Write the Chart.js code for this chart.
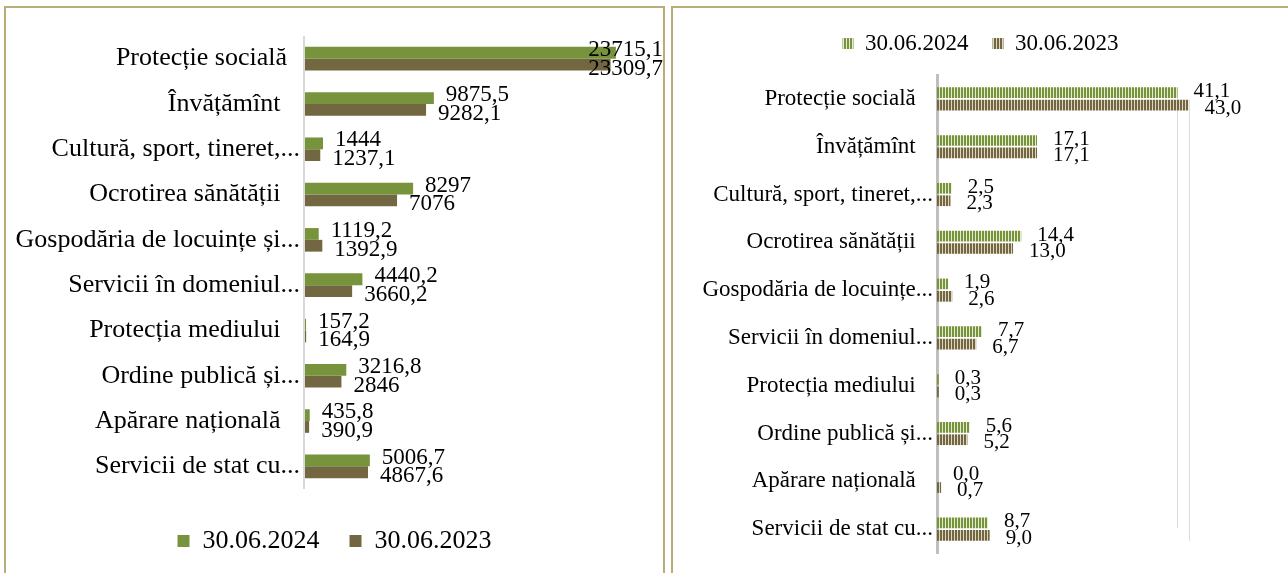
<!DOCTYPE html>
<html>
<head>
<meta charset="utf-8">
<script src="https://cdn.jsdelivr.net/npm/chart.js@4/dist/chart.umd.min.js"></script>
<style>
  body { margin: 0; background: #fff; width: 1288px; height: 573px; overflow: hidden; position: relative; }
  .panel { position: absolute; border: 2px solid #b9ad77; background: #fff; }
  #p1 { left: 4px; top: 6px; width: 657px; height: 600px; }
  #p2 { left: 671px; top: 6px; width: 640px; height: 600px; border-right: none; }
  canvas { display: block; }
</style>
</head>
<body>
<div class="panel" id="p1"><canvas id="c1" width="657" height="565"></canvas></div>
<div class="panel" id="p2"><canvas id="c2" width="615" height="565"></canvas></div>
<script>
// date: cheltuieli pe ramuri, mil. lei si ponderea in total, %
const sp = n => '\u00a0'.repeat(n);
const seriesNames = ['30.06.2024', '30.06.2023'];
const categoriesLeft = [
    'Protecție socială' + sp(2), 'Învățămînt' + sp(3), 'Cultură, sport, tineret,...', 'Ocrotirea sănătății' + sp(3),
    'Gospodăria de locuințe și...', 'Servicii în domeniul...', 'Protecția mediului' + sp(3),
    'Ordine publică și...', 'Apărare națională' + sp(3), 'Servicii de stat cu...'
];
const categoriesRight = [
    'Protecție socială' + sp(3), 'Învățămînt' + sp(3), 'Cultură, sport, tineret,...', 'Ocrotirea sănătății' + sp(3),
    'Gospodăria de locuințe...', 'Servicii în domeniul...', 'Protecția mediului' + sp(3),
    'Ordine publică și...', 'Apărare națională' + sp(3), 'Servicii de stat cu...'
];
const values2024 = [23715.1, 9875.5, 1444, 8297, 1119.2, 4440.2, 157.2, 3216.8, 435.8, 5006.7];
const values2023 = [23309.7, 9282.1, 1237.1, 7076, 1392.9, 3660.2, 164.9, 2846, 390.9, 4867.6];
const share2024 = [41.1, 17.1, 2.5, 14.4, 1.9, 7.7, 0.3, 5.6, 0.0, 8.7];
const share2023 = [43.0, 17.1, 2.3, 13.0, 2.6, 6.7, 0.3, 5.2, 0.7, 9.0];

const GREEN = '#77933c';
const BROWN = '#736741';
const FONT = '"Liberation Serif", "Times New Roman", serif';

Chart.defaults.font.family = FONT;
Chart.defaults.color = '#000';

// etichete de date langa capatul barei
function makeLabels(fmt, size, offset, dy) {
    return {
        id: 'barLabels',
        afterDatasetsDraw(chart) {
            const ctx = chart.ctx;
            ctx.save();
            ctx.font = size + 'px ' + FONT;
            ctx.fillStyle = '#000';
            ctx.textBaseline = 'middle';
            ctx.textAlign = 'left';
            chart.data.datasets.forEach((ds, i) => {
                chart.getDatasetMeta(i).data.forEach((bar, j) => {
                    const txt = fmt(ds.data[j]);
                    const w = ctx.measureText(txt).width;
                    let x = bar.x + offset;
                    if (x + w > chart.width) x = chart.width - w;
                    ctx.fillText(txt, x, bar.y + dy[i]);
                });
            });
            ctx.restore();
        }
    };
}

// linii fine verticale la capatul primei bare (ca in original)
const dropLines = {
    id: 'dropLines',
    beforeDatasetsDraw(chart) {
        const ctx = chart.ctx;
        ctx.save();
        ctx.strokeStyle = '#dcdcdc';
        ctx.lineWidth = 1;
        chart.data.datasets.forEach((ds, i) => {
            const bars = chart.getDatasetMeta(i).data;
            const first = bars[0], last = bars[bars.length - 1];
            const x = Math.round(first.x) + 0.5;
            ctx.beginPath();
            ctx.moveTo(x, first.y - first.height / 2);
            ctx.lineTo(x, last.y + last.height / 2);
            ctx.stroke();
        });
        ctx.restore();
    }
};

function stripes(target, color, light) {
    const t = document.createElement('canvas');
    t.width = 3; t.height = 1;
    const g = t.getContext('2d');
    g.fillStyle = light; g.fillRect(0, 0, 3, 1);
    g.fillStyle = color; g.fillRect(0, 0, 2, 1);
    return target.getContext('2d').createPattern(t, 'repeat');
}

// grafic stanga - valori absolute
new Chart(document.getElementById('c1'), {
    type: 'bar',
    data: {
        labels: categoriesLeft,
        datasets: [
            { label: seriesNames[0], data: values2024, backgroundColor: GREEN },
            { label: seriesNames[1], data: values2023, backgroundColor: BROWN }
        ]
    },
    options: {
        responsive: false,
        animation: false,
        indexAxis: 'y',
        categoryPercentage: 0.52,
        barPercentage: 1,
        layout: { padding: { top: 28, right: 0, bottom: 9, left: 0 } },
        scales: {
            x: {
                min: 0, max: 27300,
                ticks: { display: false, stepSize: 10000 },
                grid: {
                    drawTicks: false, lineWidth: 2,
                    color: c => (c.tick && c.tick.value % 10000 === 0) ? '#d9d9d9' : 'rgba(0,0,0,0)'
                },
                border: { display: false },
                afterFit(s) { s.height = 9; }
            },
            y: {
                grid: { display: false, drawTicks: false },
                border: { display: false },
                ticks: { font: { size: 26 }, color: '#000', padding: 4, autoSkip: false },
                afterFit(s) { s.width = 298; }
            }
        },
        plugins: {
            legend: {
                position: 'bottom',
                labels: { font: { size: 26 }, color: '#000', boxWidth: 12, boxHeight: 12, padding: 30 }
            },
            tooltip: { enabled: false }
        }
    },
    plugins: [makeLabels(v => String(v).replace('.', ','), 23, 12, [-3, 4])]
});

// grafic dreapta - ponderea in total, %
const c2 = document.getElementById('c2');
new Chart(c2, {
    type: 'bar',
    data: {
        labels: categoriesRight,
        datasets: [
            { label: seriesNames[0], data: share2024, backgroundColor: stripes(c2, GREEN, '#e4ebd3') },
            { label: seriesNames[1], data: share2023, backgroundColor: stripes(c2, BROWN, '#ddd6c3') }
        ]
    },
    options: {
        responsive: false,
        animation: false,
        indexAxis: 'y',
        categoryPercentage: 0.52,
        barPercentage: 0.86,
        layout: { padding: { top: 0, right: 0, bottom: 20, left: 0 } },
        scales: {
            x: {
                position: 'top',
                min: 0, max: 60,
                ticks: { display: false },
                grid: { display: false, drawTicks: false },
                border: { display: false },
                afterFit(s) { s.height = 10; }
            },
            y: {
                grid: { display: false, drawTicks: false },
                border: { display: true, color: '#bfbfbf', width: 3 },
                ticks: { font: { size: 23 }, color: '#000', padding: 4, autoSkip: false },
                afterFit(s) { s.width = 264; }
            }
        },
        plugins: {
            legend: {
                position: 'top',
                labels: { font: { size: 23 }, color: '#000', boxWidth: 11, boxHeight: 11, padding: 24 }
            },
            tooltip: { enabled: false }
        }
    },
    plugins: [dropLines, makeLabels(v => v.toFixed(1).replace('.', ','), 21, 16, [-1, 3])]
});
</script>
</body>
</html>
